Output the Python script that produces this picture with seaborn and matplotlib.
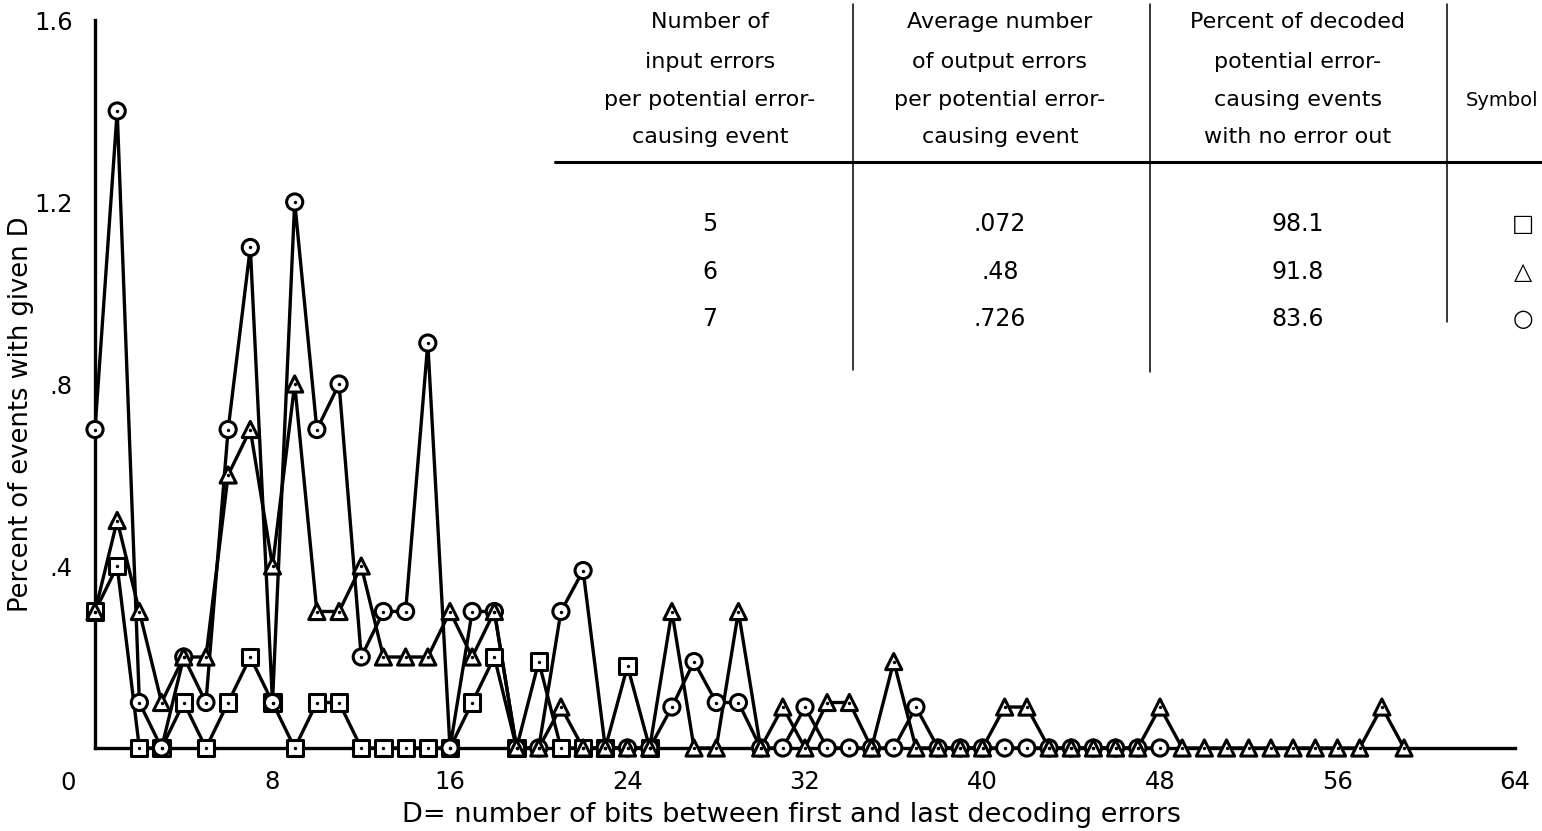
import matplotlib
matplotlib.use("Agg")
import matplotlib.pyplot as plt
from matplotlib.lines import Line2D
import pandas as pd
import seaborn as sns

# Percent of events with a given D, one series per number of input errors
d_five = list(range(0, 26))
pct_five = [0.3, 0.4, 0, 0, 0.1, 0, 0.1, 0.2, 0.1, 0, 0.1, 0.1, 0, 0,
            0, 0, 0, 0.1, 0.2, 0, 0.19, 0, 0, 0, 0.18, 0]

d_six = list(range(0, 60))
pct_six = [0.3, 0.5, 0.3, 0.1, 0.2, 0.2, 0.6, 0.7, 0.4, 0.8,
           0.3, 0.3, 0.4, 0.2, 0.2, 0.2, 0.3, 0.2, 0.3, 0,
           0, 0.09, 0, 0, 0, 0, 0.3, 0, 0, 0.3,
           0, 0.09, 0, 0.1, 0.1, 0, 0.19, 0, 0, 0,
           0, 0.09, 0.09, 0, 0, 0, 0, 0, 0.09, 0,
           0, 0, 0, 0, 0, 0, 0, 0, 0.09, 0]

d_seven = list(range(0, 49))
pct_seven = [0.7, 1.4, 0.1, 0, 0.2, 0.1, 0.7, 1.1, 0.1, 1.2,
             0.7, 0.8, 0.2, 0.3, 0.3, 0.89, 0, 0.3, 0.3, 0,
             0, 0.3, 0.39, 0, 0, 0, 0.09, 0.19, 0.1, 0.1,
             0, 0, 0.09, 0, 0, 0, 0, 0.09, 0, 0,
             0, 0, 0, 0, 0, 0, 0, 0, 0]

# Summary table
input_errors = ["5", "6", "7"]
avg_output_errors = [".072", ".48", ".726"]
pct_no_error_out = ["98.1", "91.8", "83.6"]
symbol_glyphs = ["\u25a1", "\u25b3", "\u25cb"]
header_cols = [
    ["Number of", "input errors", "per potential error-", "causing event"],
    ["Average number", "of output errors", "per potential error-", "causing event"],
    ["Percent of decoded", "potential error-", "causing events", "with no error out"],
]

x_ticks = [0, 8, 16, 24, 32, 40, 48, 56, 64]
x_tick_labels = ["", "8", "16", "24", "32", "40", "48", "56", "64"]
y_ticks = [0.4, 0.8, 1.2, 1.6]
y_tick_labels = [".4", ".8", "1.2", "1.6"]

markers = {"5": "s", "6": "^", "7": "o"}

df = pd.concat([
    pd.DataFrame({"D": d_five, "pct": pct_five, "errors": "5"}),
    pd.DataFrame({"D": d_seven, "pct": pct_seven, "errors": "7"}),
    pd.DataFrame({"D": d_six, "pct": pct_six, "errors": "6"}),
], ignore_index=True)

sns.set_theme(style="white")
plt.rcParams["font.family"] = ["DejaVu Sans"]
plt.rcParams["text.color"] = "black"
plt.rcParams["axes.labelcolor"] = "black"
plt.rcParams["xtick.color"] = "black"
plt.rcParams["ytick.color"] = "black"

W, H = 1542, 831
fig = plt.figure(figsize=(W / 100, H / 100), dpi=100)
ax = fig.add_axes([95 / W, 1 - 748 / H, 1420 / W, 728 / H])

# connecting lines first, open markers above them, centre dots on top
sns.lineplot(data=df, x="D", y="pct", units="errors", estimator=None,
             color="black", lw=2.4, sort=True, legend=False, ax=ax, zorder=2)
sns.scatterplot(data=df, x="D", y="pct", style="errors", markers=markers,
                s=135, color="white", edgecolor="black", linewidth=2.2,
                legend=False, ax=ax, zorder=3, clip_on=False)
sns.scatterplot(data=df, x="D", y="pct", color="black", s=6, linewidth=0,
                marker="o", legend=False, ax=ax, zorder=4, clip_on=False)

ax.set_xlim(0, 64)
ax.set_ylim(0, 1.6)
ax.set_xticks(x_ticks)
ax.set_xticklabels(x_tick_labels)
ax.set_yticks(y_ticks)
ax.set_yticklabels(y_tick_labels)
ax.tick_params(axis="both", direction="in", length=11, width=1.6,
               labelsize=17.5, colors="black")
ax.tick_params(axis="x", pad=16)
ax.tick_params(axis="y", pad=16)
for side in ("top", "right"):
    ax.spines[side].set_visible(False)
for side in ("left", "bottom"):
    ax.spines[side].set_linewidth(2.4)
    ax.spines[side].set_color("black")
ax.grid(False)

ax.text((68 - 95) / 1420, (748 - 783) / 728, "0", transform=ax.transAxes,
        ha="center", va="center", fontsize=17.5)

ax.set_xlabel("D= number of bits between first and last decoding errors",
              fontsize=19.5)
ax.xaxis.set_label_coords((791 - 95) / 1420, (748 - 802) / 728)
ax.set_ylabel("Percent of events with given D", fontsize=18.5)
ax.yaxis.label.set_va("center")
ax.yaxis.set_label_coords((21 - 95) / 1420, (748 - 414) / 728)


def fx(px):
    return px / W


def fy(py):
    return 1 - py / H


# table headers
col_x = [710, 1000, 1298]
head_y = [22, 62, 100, 137]
for cx, lines in zip(col_x, header_cols):
    for yy, txt in zip(head_y, lines):
        fig.text(fx(cx), fy(yy), txt, ha="center", va="center", fontsize=16)
fig.text(fx(1538), fy(100), "Symbol", ha="right", va="center", fontsize=14)

# table rows
row_y = [224, 272, 319]
for yy, a, b, c, g in zip(row_y, input_errors, avg_output_errors,
                          pct_no_error_out, symbol_glyphs):
    fig.text(fx(710), fy(yy), a, ha="center", va="center", fontsize=17)
    fig.text(fx(1000), fy(yy), b, ha="center", va="center", fontsize=17)
    fig.text(fx(1298), fy(yy), c, ha="center", va="center", fontsize=17)
    fig.text(fx(1523), fy(yy), g, ha="center", va="center", fontsize=17)

# table rules
fig.add_artist(Line2D([fx(555), fx(1542)], [fy(162), fy(162)],
                      color="black", lw=2.2))
for vx, y_end in [(853, 370), (1150, 372), (1447, 322)]:
    fig.add_artist(Line2D([fx(vx), fx(vx)], [fy(4), fy(y_end)],
                          color="black", lw=1.1))

fig.savefig("out.png", dpi=100, facecolor="white")
